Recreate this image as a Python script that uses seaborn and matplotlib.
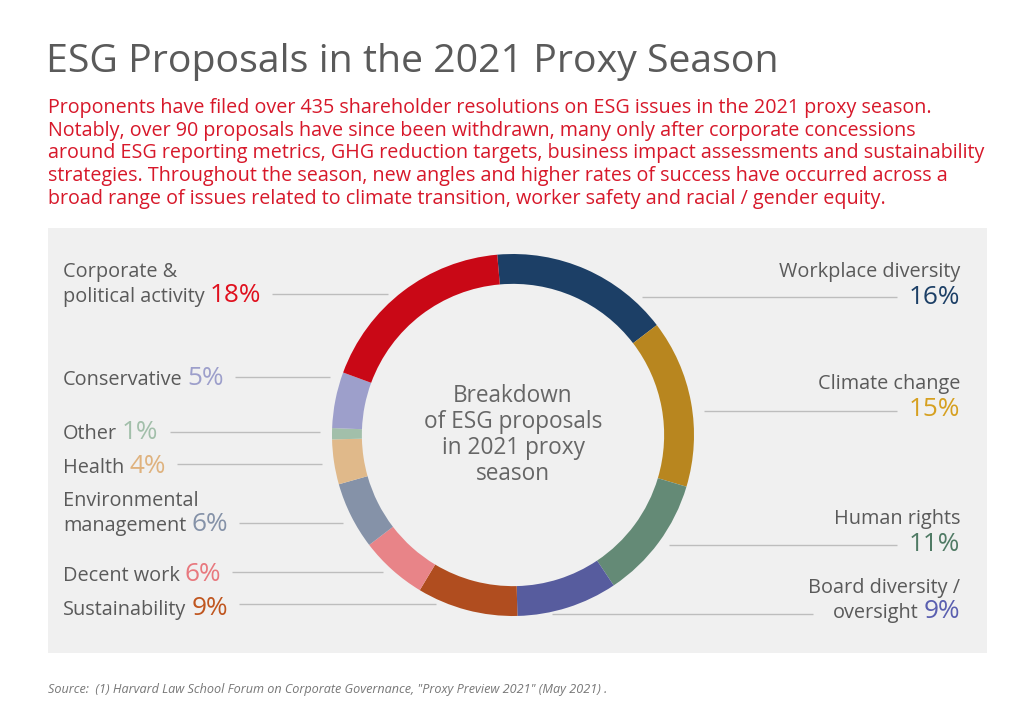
import numpy as np
import matplotlib.pyplot as plt
import seaborn as sns
from matplotlib.patches import Rectangle

# Data (clockwise from the top)
categories = ["Workplace diversity", "Climate change", "Human rights", "Board diversity / oversight",
              "Sustainability", "Decent work", "Environmental management", "Health", "Other",
              "Conservative", "Corporate & political activity"]
shares = [16, 15, 11, 9, 9, 6, 6, 4, 1, 5, 18]
ring_colors = ["#1c3f66", "#b8861f", "#648a76", "#575c9e", "#b04d1f", "#e88488",
               "#8592a8", "#e0b98a", "#a2bfaa", "#9d9fcb", "#c90816"]
pct_colors = ["#1c3f66", "#d6a020", "#4f7a64", "#5a5fb0", "#c0561f", "#e8787e",
              "#8592a8", "#dfb27e", "#a2bfaa", "#9d9fcb", "#e0101e"]

# label layout: (lines, baseline of last line, leader y)
left_labels = {
    "Corporate & political activity": (["Corporate &", "political activity"], 302, 294),
    "Conservative": (["Conservative"], 385, 377),
    "Other": (["Other"], 439, 432),
    "Health": (["Health"], 473, 464),
    "Environmental management": (["Environmental", "management"], 531, 523),
    "Decent work": (["Decent work"], 581, 572),
    "Sustainability": (["Sustainability"], 615, 604),
}
right_labels = {
    "Workplace diversity": (["Workplace diversity"], 304, 297, False),
    "Climate change": (["Climate change"], 416, 411, False),
    "Human rights": (["Human rights"], 551, 545, False),
    "Board diversity / oversight": (["Board diversity /", "oversight"], 618, 614, True),
}

TITLE = "ESG Proposals in the 2021 Proxy Season"
SUBTITLE = ("Proponents have filed over 435 shareholder resolutions on ESG issues in the 2021 proxy season.\n"
            "Notably, over 90 proposals have since been withdrawn, many only after corporate concessions\n"
            "around ESG reporting metrics, GHG reduction targets, business impact assessments and sustainability\n"
            "strategies. Throughout the season, new angles and higher rates of success have occurred across a\n"
            "broad range of issues related to climate transition, worker safety and racial / gender equity.")
SOURCE = 'Source:  (1) Harvard Law School Forum on Corporate Governance, "Proxy Preview 2021" (May 2021) .'

sns.set_theme(style="white")
plt.rcParams['font.family'] = ['Open Sans', 'DejaVu Sans']

W, H = 1024, 706
CX, CY, R = 513, 435, 181
GREY = "#5a5a5a"
LINE = "#bdbdbd"

fig = plt.figure(figsize=(W / 100, H / 100), dpi=100)
fig.patch.set_facecolor("white")

ax = fig.add_axes([0, 0, 1, 1])
ax.set_xlim(0, W)
ax.set_ylim(H, 0)
ax.axis("off")
ax.add_patch(Rectangle((48, 228), 939, 425, facecolor="#f0f0f0", edgecolor="none", zorder=0))

ax.text(46, 62, TITLE, fontsize=28.3, color=GREY, va="center", ha="left")
ax.text(48, 98, SUBTITLE, fontsize=14.2, color="#d7182a", va="top", ha="left", linespacing=1.18)
ax.text(48, 689, SOURCE, fontsize=9.1, color="#777777", style="italic", va="center", ha="left")

# donut
pax = fig.add_axes([(CX - R) / W, (H - CY - R) / H, 2 * R / W, 2 * R / H])
pax.pie(shares, colors=ring_colors, startangle=95, counterclock=False, radius=1,
        wedgeprops=dict(width=0.165, edgecolor="none"))
pax.set_xlim(-1, 1)
pax.set_ylim(-1, 1)
pax.set_facecolor("none")
pax.text(0, 0.0, "Breakdown\nof ESG proposals\nin 2021 proxy\nseason", ha="center", va="center",
         fontsize=16.3, color="#666666", linespacing=1.12)

renderer = fig.canvas.get_renderer()
inv = ax.transData.inverted()


def extent(t):
    bb = t.get_window_extent(renderer)
    (x0, _), (x1, _) = inv.transform([[bb.x0, bb.y0], [bb.x1, bb.y1]])
    return min(x0, x1), max(x0, x1)


LBL_FS, PCT_FS, STEP = 14.3, 18.8, 25
for cat, share, col in zip(categories, shares, pct_colors):
    if cat in left_labels:
        lines, base, ly = left_labels[cat]
        for i, s in enumerate(lines):
            t = ax.text(63, base - (len(lines) - 1 - i) * STEP, s, fontsize=LBL_FS, color=GREY,
                        ha="left", va="baseline")
        _, x1 = extent(t)
        p = ax.text(x1 + 5, base, f"{share}%", fontsize=PCT_FS, color=col, ha="left", va="baseline")
        _, px1 = extent(p)
        xr = CX - np.sqrt(R ** 2 - (ly - CY) ** 2) - 12
        ax.plot([px1 + 11, xr], [ly, ly], color=LINE, lw=1, solid_capstyle="butt")
    else:
        lines, base, ly, inline = right_labels[cat]
        p = ax.text(960, base, f"{share}%", fontsize=PCT_FS, color=col, ha="right", va="baseline")
        px0, _ = extent(p)
        if inline:
            t = ax.text(px0 - 5, base, lines[-1], fontsize=LBL_FS, color=GREY, ha="right", va="baseline")
            lx0, _ = extent(t)
            ax.text(960, base - STEP, lines[0], fontsize=LBL_FS, color=GREY, ha="right", va="baseline")
            xend = lx0 - 20
        else:
            ax.text(960, base - STEP - 2, lines[0], fontsize=LBL_FS, color=GREY, ha="right", va="baseline")
            xend = px0 - 12
        xl = CX + np.sqrt(R ** 2 - (ly - CY) ** 2) + 12
        ax.plot([xl, xend], [ly, ly], color=LINE, lw=1, solid_capstyle="butt")

fig.savefig("out.png", dpi=100)
